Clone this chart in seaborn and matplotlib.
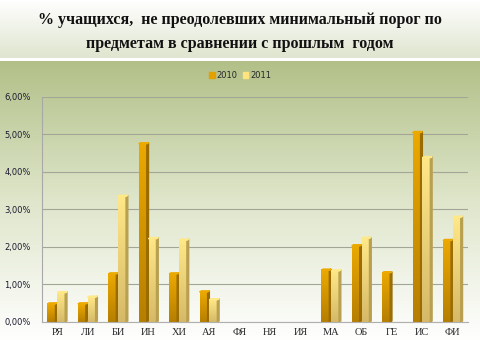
import numpy as np
import pandas as pd
import matplotlib
matplotlib.use('Agg')
import matplotlib.pyplot as plt
import seaborn as sns
from matplotlib.colors import LinearSegmentedColormap
from matplotlib.patches import Polygon
from matplotlib.ticker import FuncFormatter

sns.set_style('white')

subjects = ['РЯ', 'ЛИ', 'БИ', 'ИН', 'ХИ', 'АЯ', 'ФЯ', 'НЯ', 'ИЯ', 'МА', 'ОБ', 'ГЕ', 'ИС', 'ФИ']
pct_2010 = [0.48, 0.48, 1.28, 4.75, 1.28, 0.80, 0.0, 0.0, 0.0, 1.38, 2.03, 1.31, 5.05, 2.17]
pct_2011 = [0.78, 0.66, 3.35, 2.22, 2.18, 0.59, 0.0, 0.0, 0.0, 1.36, 2.23, 0.0, 4.38, 2.79]
years = ['2010', '2011']
colors = ['#E3A000', '#FFE37F']
# top -> bottom shades for the bar faces, and side shade
face_grad = {'2010': ['#ECA900', '#B67E00'], '2011': ['#FFE888', '#D6B968']}
side_col = {'2010': '#9A6C00', '2011': '#B8A050'}

df = pd.DataFrame({
    'Предмет': subjects * 2,
    'Год': [years[0]] * len(subjects) + [years[1]] * len(subjects),
    'Процент': pct_2010 + pct_2011,
})

fig = plt.figure(figsize=(4.8, 3.6), dpi=100)

# background gradients
bg = fig.add_axes([0, 0, 1, 1])
bg.set_xlim(0, 1)
bg.set_ylim(0, 1)
bg.axis('off')
top_cmap = LinearSegmentedColormap.from_list('top', ['#ffffff', '#dfe5cf'])
bot_cmap = LinearSegmentedColormap.from_list('bot', ['#b2c088', '#dfe6cb', '#ffffff'])
grad = np.linspace(0, 1, 256).reshape(-1, 1)
bg.imshow(grad, cmap=top_cmap, extent=[0, 1, 0.84, 1], aspect='auto', origin='upper')
bg.imshow(grad, cmap=bot_cmap, extent=[0, 1, 0.05, 0.828], aspect='auto', origin='upper')
bg.imshow(np.ones((2, 2)), cmap=LinearSegmentedColormap.from_list('w', ['#ffffff', '#ffffff']),
          extent=[0, 1, 0, 0.05], aspect='auto')

fig.text(0.5, 0.945, '% учащихся,  не преодолевших минимальный порог по',
         ha='center', va='center', fontsize=11.5, fontweight='bold',
         family='Liberation Serif', color='#111111')
fig.text(0.5, 0.878, 'предметам в сравнении с прошлым  годом',
         ha='center', va='center', fontsize=11.5, fontweight='bold',
         family='Liberation Serif', color='#111111')

ax = fig.add_axes([0.0875, 0.1056, 0.8875, 0.625])
ax.set_facecolor('none')
sns.barplot(data=df, x='Предмет', y='Процент', hue='Год', palette=colors,
            width=0.64, ax=ax, saturation=1, legend=False, linewidth=0)

ax.set_ylim(0, 6)
xlim = ax.get_xlim()

# gradient faces + dark side for a 3D look, built from the seaborn bar patches
n = len(subjects)
for i, p in enumerate(ax.patches[:2 * n]):
    yr = years[i // n]
    x0, w, h = p.get_x(), p.get_width(), p.get_height()
    if h <= 0:
        continue
    cm = LinearSegmentedColormap.from_list('f' + yr, face_grad[yr])
    im = ax.imshow(grad, cmap=cm, extent=[x0, x0 + w * 0.82, 0, h],
                   aspect='auto', origin='upper', zorder=p.get_zorder())
    side = Polygon([[x0 + w * 0.82, 0], [x0 + w, 0.03], [x0 + w, h + 0.03],
                    [x0 + w * 0.82, h]], closed=True, color=side_col[yr],
                   zorder=p.get_zorder())
    top = Polygon([[x0, h], [x0 + w * 0.82, h], [x0 + w, h + 0.03],
                   [x0 + w * 0.18, h + 0.03]], closed=True, color=face_grad[yr][0],
                  zorder=p.get_zorder())
    ax.add_patch(side)
    ax.add_patch(top)
    p.set_visible(False)

ax.set_xlim(xlim)
ax.set_ylim(0, 6)
ax.set_yticks(np.arange(0, 7, 1))
ax.yaxis.set_major_formatter(FuncFormatter(lambda v, p: f'{v:.2f}%'.replace('.', ',')))
ax.grid(axis='y', color='#a3a697', linewidth=0.8)
ax.set_axisbelow(True)
for s in ['top', 'right']:
    ax.spines[s].set_visible(False)
ax.spines['left'].set_color('#a8a8a8')
ax.spines['bottom'].set_color('#b0b0b0')
ax.set_xlabel('')
ax.set_ylabel('')
ax.tick_params(axis='y', labelsize=6, length=0, pad=8, labelcolor='#1a1a30')
ax.tick_params(axis='x', length=0, pad=4)
for lbl in ax.get_xticklabels():
    lbl.set_family('Liberation Serif')
    lbl.set_fontsize(7.5)

handles = [plt.Rectangle((0, 0), 1, 1, color=c) for c in colors]
fig.legend(handles, years, loc='center', bbox_to_anchor=(0.5, 0.79), ncol=2,
           frameon=False, fontsize=6, handlelength=0.7, handleheight=0.7,
           handletextpad=0.2, columnspacing=0.6)

fig.savefig('out.png', dpi=100)
